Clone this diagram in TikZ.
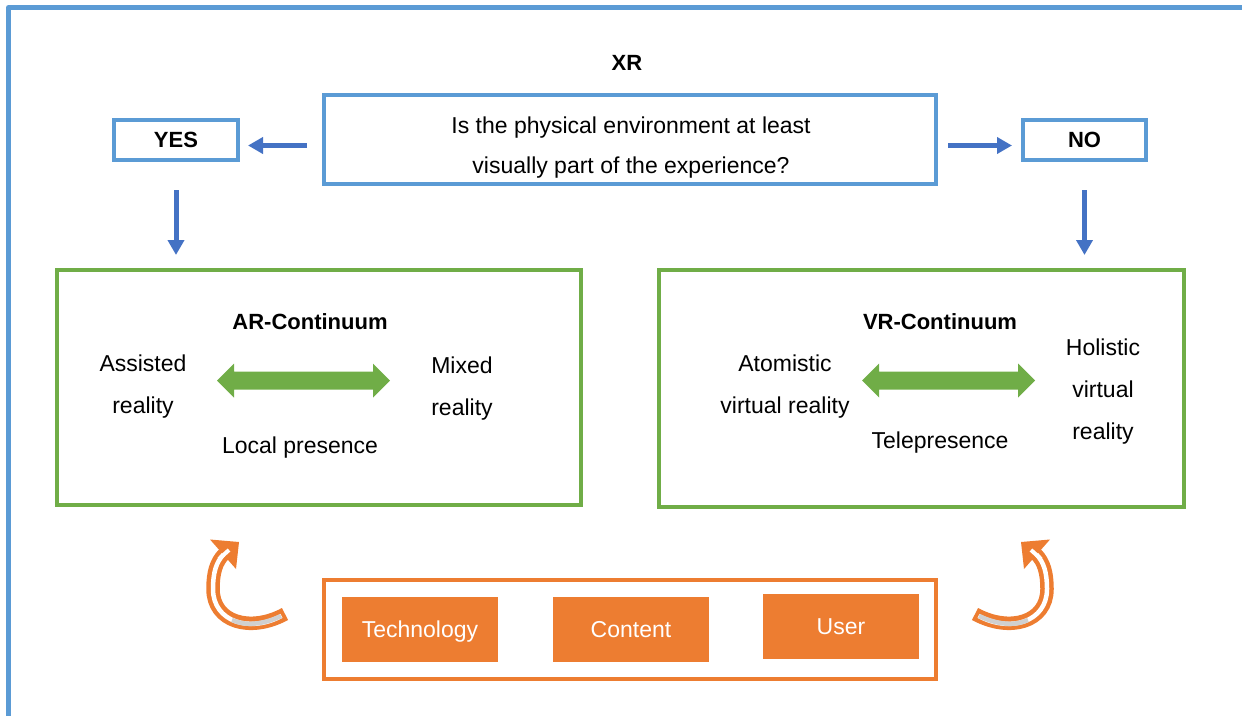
\documentclass[tikz,border=0pt]{standalone}
\usepackage{fontspec}
\setmainfont{Liberation Sans}
\usetikzlibrary{arrows.meta,calc}
\definecolor{frameblue}{HTML}{5B9BD5}
\definecolor{arrowblue}{HTML}{4472C4}
\definecolor{boxgreen}{HTML}{70AD47}
\definecolor{boxorange}{HTML}{ED7D31}
\definecolor{innergray}{HTML}{D0D0D0}
\begin{document}
\begin{tikzpicture}[x=1pt,y=-1pt,
  font=\fontsize{23}{40}\selectfont,
  bluebox/.style={draw=frameblue, line width=4pt, inner sep=0pt},
  greenbox/.style={draw=boxgreen, line width=4pt, inner sep=0pt},
  orangebox/.style={draw=boxorange, line width=4pt, inner sep=0pt},
  tag/.style={fill=boxorange, text=white, inner sep=0pt, minimum width=156pt, minimum height=65pt},
  heading/.style={font=\bfseries\fontsize{22}{26}\selectfont},
  txt/.style={align=center, inner sep=0pt, font=\fontsize{23}{42}\selectfont},
  barrow/.style={draw=arrowblue, line width=5pt, -{Triangle[length=15pt,width=16pt]}},
  bigarrow/.style={fill=boxgreen},
]
\useasboundingbox (0,0) rectangle (1242,715);

% outer frame (open to the right and bottom)
\draw[frameblue, line width=5pt, line join=round] (8.5,720) -- (8.5,7.5) -- (1250,7.5);

% decision part
\node[heading] (xr) at (627,63) {XR};
\node[bluebox, minimum width=612pt, minimum height=89pt] (qbox) at (630,139.5) {};
\node[txt, font=\fontsize{23}{40}\selectfont] (q) at (631,147.5) {Is the physical environment at least\\visually part of the experience?};
\node[bluebox, heading, minimum width=124pt, minimum height=40pt] (yes) at (176,140) {YES};
\node[bluebox, heading, minimum width=123pt, minimum height=40pt] (no) at (1084.5,140) {NO};

\draw[barrow, shorten <=15pt, shorten >=8pt] ($(qbox.west)+(0,6)$) -- ($(yes.east)+(0,5.5)$);
\draw[barrow, shorten <=10pt, shorten >=9pt] ($(qbox.east)+(0,6)$) -- ($(no.west)+(0,5.5)$);

% continuum boxes
\node[greenbox, minimum width=524pt, minimum height=235pt] (ar) at (319,387.5) {};
\node[greenbox, minimum width=525pt, minimum height=237pt] (vr) at (921.5,388.5) {};

\draw[barrow, shorten <=28pt, shorten >=13pt] (yes.south) -- (yes.south |- ar.north);
\draw[barrow, shorten <=28pt, shorten >=13pt] (no.south) -- (no.south |- vr.north);

% AR continuum
\node[heading] (arh) at (310,322) {AR-Continuum};
\node[txt] (assisted) at (143,387) {Assisted\\reality};
\node[txt] (mixed) at (462,389) {Mixed\\reality};
\node[txt] (local) at (300,448) {Local presence};
\fill[bigarrow] (217,380.5) -- (234,363.5) -- (234,371.5) -- (373,371.5) -- (373,363.5)
  -- (390,380.5) -- (373,397.5) -- (373,389.5) -- (234,389.5) -- (234,397.5) -- cycle;

% VR continuum
\node[heading] (vrh) at (940,322) {VR-Continuum};
\node[txt] (atomistic) at (785,387) {Atomistic\\virtual reality};
\node[txt] (holistic) at (1103,391.5) {Holistic\\virtual\\reality};
\node[txt] (tele) at (940,443) {Telepresence};
\begin{scope}[xshift=645pt]
\fill[bigarrow] (217,380.5) -- (234,363.5) -- (234,371.5) -- (373,371.5) -- (373,363.5)
  -- (390,380.5) -- (373,397.5) -- (373,389.5) -- (234,389.5) -- (234,397.5) -- cycle;
\end{scope}

% factors
\node[orangebox, minimum width=612pt, minimum height=99pt] (factors) at (630,629.5) {};
\node[tag] (tech) at (419.5,629.5) {};
\node[text=white] (techlabel) at (420,632) {Technology};
\node[tag] (content) at (631,629.5) {Content};
\node[tag] (user) at (841,626.5) {User};

% curved feedback arrows
\foreach \mirror/\shift in {1/0, -1/1260} {
  \begin{scope}[xshift=\shift pt, xscale=\mirror]
    \draw[boxorange, line width=13.5pt]
      (285,614) .. controls (250,633) and (213,622) .. (213,589)
      .. controls (213,573) and (216,562) .. (224,554);
    \draw[white, line width=4.5pt, shorten <=4pt]
      (285,614) .. controls (250,633) and (213,622) .. (213,589)
      .. controls (213,573) and (216,562) .. (224,554);
    \draw[innergray, line width=4.5pt]
      (281,616) .. controls (262,625) and (245,626) .. (232,620);
    \fill[boxorange] (210,539.5) -- (239,542) -- (236,569) -- cycle;
    \draw[white, line width=4pt] (219,559) -- (229,550);
  \end{scope}
}
\end{tikzpicture}
\end{document}
